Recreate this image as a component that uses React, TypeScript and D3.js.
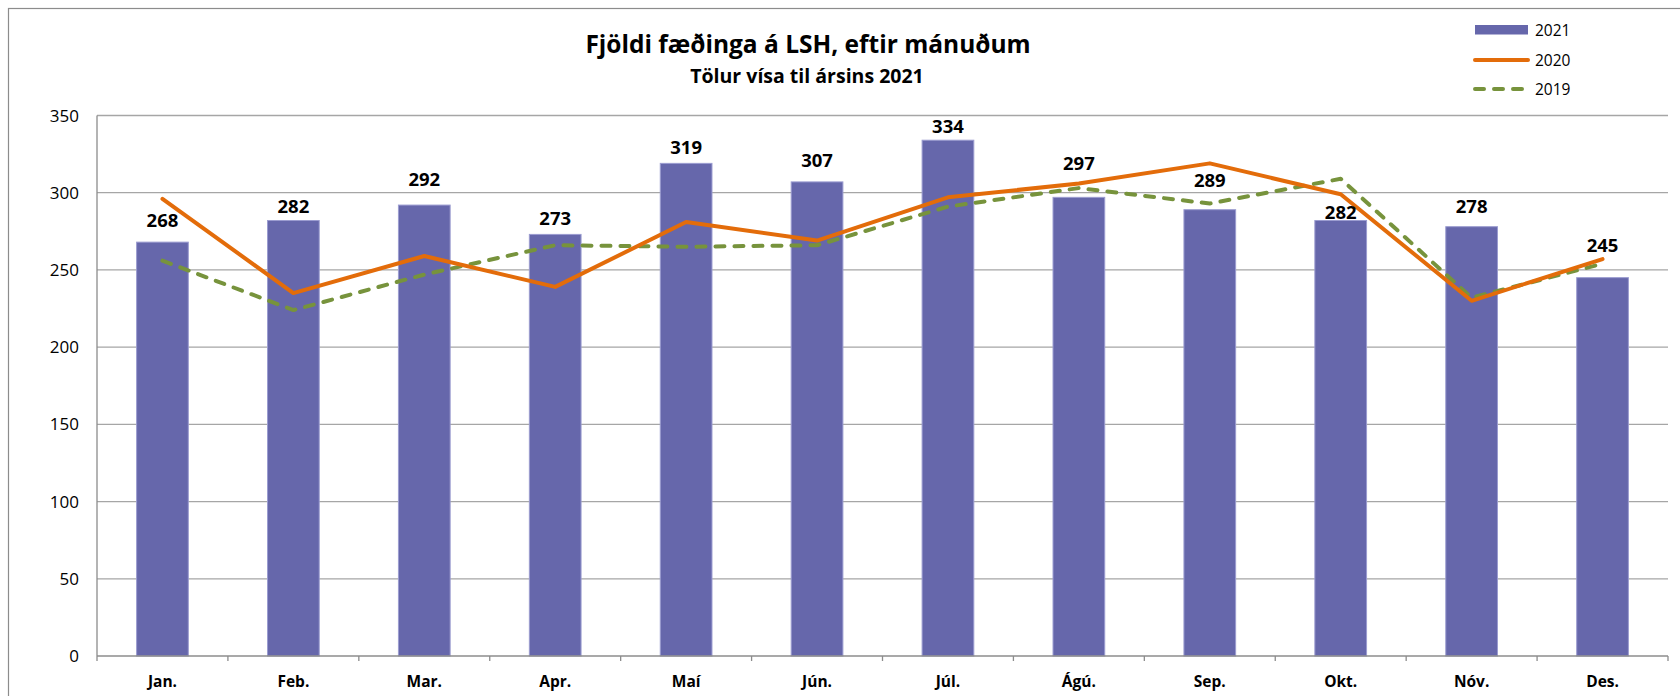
import React, { useRef, useEffect } from "react";
import * as d3 from "d3";

const months = ["Jan.", "Feb.", "Mar.", "Apr.", "Maí", "Jún.", "Júl.", "Ágú.", "Sep.", "Okt.", "Nóv.", "Des."];
const births2021 = [268, 282, 292, 273, 319, 307, 334, 297, 289, 282, 278, 245];
const births2020 = [296, 235, 259, 239, 281, 269, 297, 306, 319, 299, 230, 257];
const births2019 = [256, 224, 247, 266, 265, 266, 291, 303, 293, 309, 232, 254];
const yTicks = [0, 50, 100, 150, 200, 250, 300, 350];

// labels were nudged by hand in the original, gap above bar top in px
const labelGap = [15, 8, 19, 9, 9, 15, 7, 27, 23, 2, 14, 26];

const FONT = "'Open Sans', sans-serif";

const App = () => {
  const container = useRef<SVGSVGElement | null>(null);

  useEffect(() => {
    drawChart();
  });

  const drawChart = () => {
    const width = 1680;
    const height = 696;
    const plot = { l: 97, r: 1668, t: 115.5, b: 656 };

    const svg = d3.select(container.current);
    svg.selectAll("*").remove();

    // outer chart border
    svg
      .append("rect")
      .attr("x", 8.5)
      .attr("y", 8.5)
      .attr("width", width + 10)
      .attr("height", height + 10)
      .attr("fill", "white")
      .attr("stroke", "#8c8c8c")
      .attr("stroke-width", 1.2);

    const xScale = d3
      .scaleBand()
      .domain(months)
      .range([plot.l, plot.r])
      .paddingInner(0.605)
      .paddingOuter(0.3025);

    const yScale = d3.scaleLinear().domain([0, 350]).range([plot.b, plot.t]);
    const xc = (m: string) => (xScale(m) as number) + xScale.bandwidth() / 2;

    // gridlines
    svg
      .selectAll(".grid")
      .data(yTicks.filter((t) => t > 0))
      .join("line")
      .attr("class", "grid")
      .attr("x1", plot.l)
      .attr("x2", plot.r)
      .attr("y1", (d) => yScale(d))
      .attr("y2", (d) => yScale(d))
      .attr("stroke", "#a6a6a6")
      .attr("stroke-width", 1.3);

    // y tick labels
    svg
      .selectAll(".ytick")
      .data(yTicks)
      .join("text")
      .attr("class", "ytick")
      .attr("x", 79)
      .attr("y", (d) => yScale(d))
      .attr("dy", "0.36em")
      .attr("text-anchor", "end")
      .style("font-family", FONT)
      .style("font-size", "17px")
      .attr("fill", "#000")
      .text((d) => d);

    // bars
    svg
      .selectAll(".bar")
      .data(births2021)
      .join("rect")
      .attr("class", "bar")
      .attr("x", (d, i) => xScale(months[i]) as number)
      .attr("width", xScale.bandwidth())
      .attr("y", (d) => yScale(d))
      .attr("height", (d) => yScale(0) - yScale(d))
      .attr("fill", "#6667ab")
      .attr("stroke", "#9b9cd0")
      .attr("stroke-width", 1);

    // axes lines
    svg
      .append("line")
      .attr("x1", plot.l)
      .attr("x2", plot.l)
      .attr("y1", plot.t)
      .attr("y2", plot.b)
      .attr("stroke", "#8c8c8c")
      .attr("stroke-width", 1.3);

    svg
      .append("line")
      .attr("x1", plot.l)
      .attr("x2", plot.r)
      .attr("y1", plot.b)
      .attr("y2", plot.b)
      .attr("stroke", "#8c8c8c")
      .attr("stroke-width", 1.3);

    const boundaries = months.map((m) => (xScale(m) as number) - (xScale.step() * xScale.paddingInner()) / 2);
    boundaries.push(plot.r);
    svg
      .selectAll(".xtickmark")
      .data(boundaries)
      .join("line")
      .attr("class", "xtickmark")
      .attr("x1", (d) => d)
      .attr("x2", (d) => d)
      .attr("y1", plot.b)
      .attr("y2", plot.b + 5)
      .attr("stroke", "#8c8c8c")
      .attr("stroke-width", 1.3);

    // x labels
    svg
      .selectAll(".xlabel")
      .data(months)
      .join("text")
      .attr("class", "xlabel")
      .attr("x", (d) => xc(d))
      .attr("y", 687)
      .attr("text-anchor", "middle")
      .style("font-family", FONT)
      .style("font-size", "15.5px")
      .style("font-weight", "bold")
      .text((d) => d);

    // lines
    const line = d3
      .line<number>()
      .x((d, i) => xc(months[i]))
      .y((d) => yScale(d));

    svg
      .append("path")
      .datum(births2019)
      .attr("d", line)
      .attr("fill", "none")
      .attr("stroke", "#77933c")
      .attr("stroke-width", 4)
      .attr("stroke-dasharray", "9 10")
      .attr("stroke-linecap", "round")
      .attr("stroke-linejoin", "round");

    svg
      .append("path")
      .datum(births2020)
      .attr("d", line)
      .attr("fill", "none")
      .attr("stroke", "#e36c0a")
      .attr("stroke-width", 4)
      .attr("stroke-linejoin", "round")
      .attr("stroke-linecap", "round");

    // data labels
    svg
      .selectAll(".vlabel")
      .data(births2021)
      .join("text")
      .attr("class", "vlabel")
      .attr("x", (d, i) => xc(months[i]))
      .attr("y", (d, i) => yScale(d) - labelGap[i])
      .attr("text-anchor", "middle")
      .style("font-family", FONT)
      .style("font-size", "18.5px")
      .style("font-weight", "bold")
      .text((d) => d);

    // title
    svg
      .append("text")
      .attr("x", 808)
      .attr("y", 53)
      .attr("text-anchor", "middle")
      .style("font-family", FONT)
      .style("font-size", "24.5px")
      .style("font-weight", "bold")
      .text("Fjöldi fæðinga á LSH, eftir mánuðum");

    svg
      .append("text")
      .attr("x", 807)
      .attr("y", 83)
      .attr("text-anchor", "middle")
      .style("font-family", FONT)
      .style("font-size", "19.5px")
      .style("font-weight", "bold")
      .text("Tölur vísa til ársins 2021");

    // legend
    const legend = svg.append("g");
    legend
      .append("rect")
      .attr("x", 1475)
      .attr("y", 25)
      .attr("width", 53)
      .attr("height", 9.5)
      .attr("fill", "#6667ab");
    legend
      .append("line")
      .attr("x1", 1475)
      .attr("x2", 1528)
      .attr("y1", 60)
      .attr("y2", 60)
      .attr("stroke", "#e36c0a")
      .attr("stroke-width", 4)
      .attr("stroke-linecap", "round");
    legend
      .append("line")
      .attr("x1", 1475)
      .attr("x2", 1524)
      .attr("y1", 89)
      .attr("y2", 89)
      .attr("stroke", "#77933c")
      .attr("stroke-width", 4)
      .attr("stroke-dasharray", "9 10")
      .attr("stroke-linecap", "round");

    legend
      .selectAll(".legtext")
      .data([
        ["2021", 30],
        ["2020", 60],
        ["2019", 89],
      ])
      .join("text")
      .attr("class", "legtext")
      .attr("x", 1535)
      .attr("y", (d) => d[1] as number)
      .attr("dy", "0.36em")
      .style("font-family", FONT)
      .style("font-size", "15.5px")
      .text((d) => d[0] as string);
  };

  return (
    <svg
      ref={container}
      width={1680}
      height={696}
      style={{ position: "absolute", left: 0, top: 0, background: "white" }}
    ></svg>
  );
};

export default App;
